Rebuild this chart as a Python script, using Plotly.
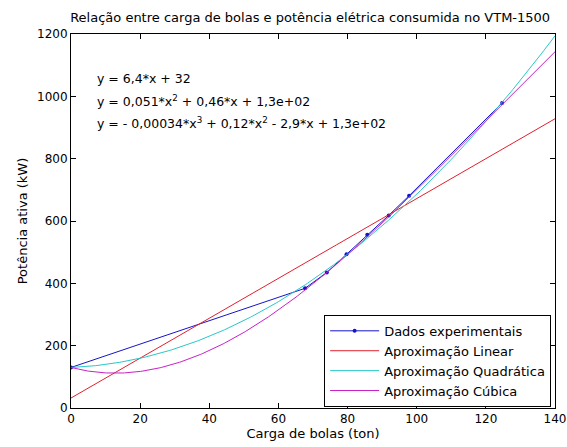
import numpy as np
import plotly.graph_objects as go

# Experimental data
carga = [0, 67.7, 74.0, 79.7, 85.7, 91.9, 97.8, 124.7]
potencia = [130, 384, 435, 493, 556, 618, 681, 979]

# Fit coefficients (highest degree first), as printed on the chart
coef_lin = [6.4, 32]
coef_quad = [0.051, 0.46, 130]
coef_cub = [-0.00034, 0.12, -2.9, 130]

x_fit = np.linspace(0, 140, 300)

FONT = "DejaVu Sans"

fig = go.Figure()
fig.add_trace(go.Scatter(x=carga, y=potencia, mode="lines+markers",
                         name="Dados experimentais",
                         line=dict(color="#1414c8", width=1),
                         marker=dict(color="#1414c8", size=4)))
fig.add_trace(go.Scatter(x=x_fit, y=np.polyval(coef_lin, x_fit), mode="lines",
                         name="Aproximação Linear",
                         line=dict(color="#e0202c", width=1)))
fig.add_trace(go.Scatter(x=x_fit, y=np.polyval(coef_quad, x_fit), mode="lines",
                         name="Aproximação Quadrática",
                         line=dict(color="#28c8c8", width=1)))
fig.add_trace(go.Scatter(x=x_fit, y=np.polyval(coef_cub, x_fit), mode="lines",
                         name="Aproximação Cúbica",
                         line=dict(color="#c820c8", width=1)))

eq_lines = [
    "y = 6,4*x + 32",
    "y = 0,051*x<sup>2</sup> + 0,46*x + 1,3e+02",
    "y = - 0,00034*x<sup>3</sup> + 0,12*x<sup>2</sup> - 2,9*x + 1,3e+02",
]
for i, t in enumerate(eq_lines):
    fig.add_annotation(x=7.0, y=1058 - i * 72, xref="x", yref="y", text=t,
                       showarrow=False, xanchor="left", yanchor="middle",
                       font=dict(family=FONT, size=12.5, color="black"))

axis_common = dict(showline=True, linecolor="black", linewidth=1, mirror="ticks",
                   ticks="inside", ticklen=5, tickcolor="black", showgrid=False,
                   zeroline=False, automargin=False,
                   tickfont=dict(family=FONT, size=12, color="black"))

fig.update_xaxes(range=[0, 140], tickvals=list(range(0, 141, 20)),
                 title=dict(text="Carga de bolas (ton)", standoff=2,
                            font=dict(family=FONT, size=13, color="black")),
                 **axis_common)
fig.update_yaxes(range=[0, 1200], tickvals=list(range(0, 1201, 200)),
                 title=dict(text="Potência ativa (kW)", standoff=6,
                            font=dict(family=FONT, size=13, color="black")),
                 **axis_common)

fig.update_layout(
    width=567, height=447,
    margin=dict(l=71, r=12, t=34, b=39),
    paper_bgcolor="white", plot_bgcolor="white",
    title=dict(text="Relação entre carga de bolas e potência elétrica consumida no VTM-1500",
               x=0.547, xanchor="center", y=0.962, yanchor="middle",
               font=dict(family=FONT, size=13, color="black")),
    legend=dict(x=0.992, y=0.003, xanchor="right", yanchor="bottom",
                bordercolor="black", borderwidth=1, bgcolor="white",
                font=dict(family=FONT, size=13, color="black"),
                tracegroupgap=0, itemwidth=49),
    showlegend=True,
)

fig.write_html("out.html")
